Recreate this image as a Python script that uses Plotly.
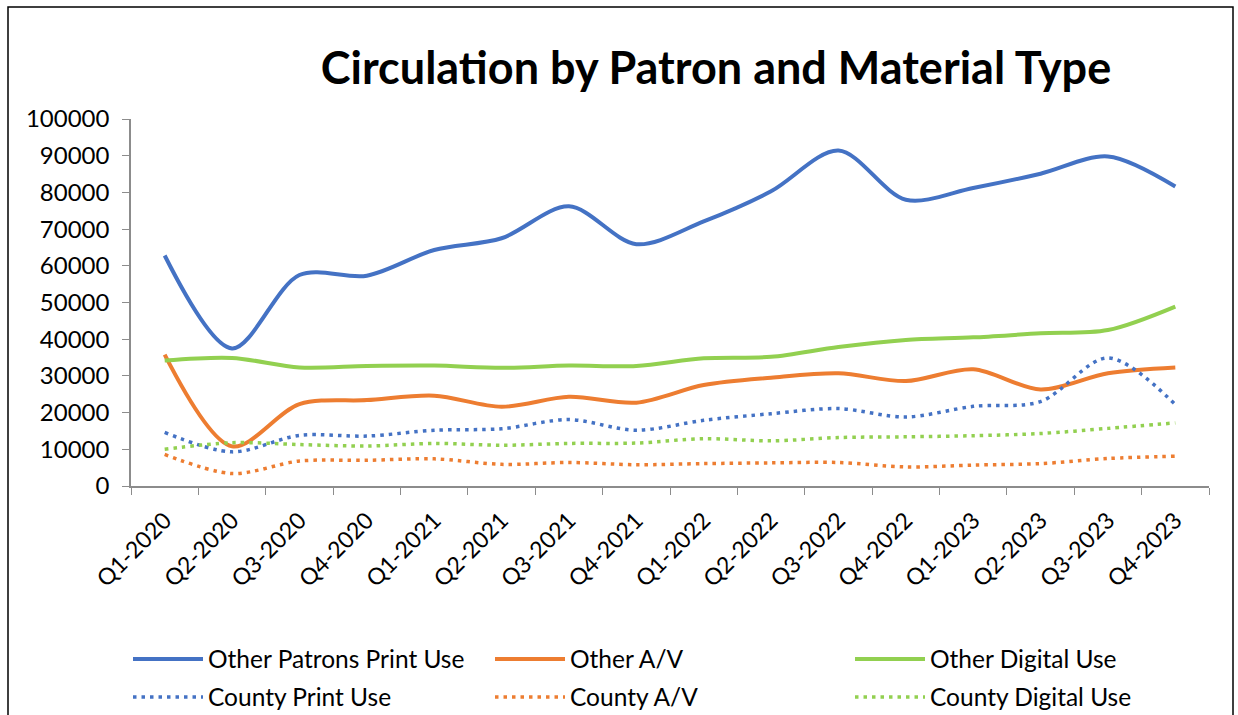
import plotly.graph_objects as go

quarters = ["Q1-2020", "Q2-2020", "Q3-2020", "Q4-2020",
            "Q1-2021", "Q2-2021", "Q3-2021", "Q4-2021",
            "Q1-2022", "Q2-2022", "Q3-2022", "Q4-2022",
            "Q1-2023", "Q2-2023", "Q3-2023", "Q4-2023"]

other_print = [62800, 37500, 57500, 57300, 64300, 67500, 76200, 65900,
               72100, 80300, 91400, 78000, 81200, 85100, 89800, 81600]
other_av = [35800, 10800, 22300, 23400, 24600, 21600, 24300, 22700,
            27500, 29500, 30700, 28600, 31800, 26300, 30700, 32300]
other_digital = [34200, 34900, 32300, 32700, 32800, 32200, 32800, 32700,
                 34800, 35200, 37900, 39800, 40500, 41600, 42500, 48900]
county_print = [14600, 9300, 13800, 13600, 15200, 15600, 18100, 15200,
                17900, 19700, 21100, 18800, 21700, 23000, 34900, 22200]
county_av = [8600, 3400, 6800, 7000, 7400, 5900, 6400, 5800,
             6100, 6300, 6400, 5200, 5700, 6100, 7500, 8100]
county_digital = [10000, 11800, 11300, 10900, 11600, 11100, 11600, 11700,
                  12900, 12300, 13200, 13400, 13700, 14300, 15700, 17200]

DOT = "3.5px,5px"
series = [
    ("Other Patrons Print Use", other_print, "#4472C4", "solid", 4),
    ("Other A/V", other_av, "#ED7D31", "solid", 4),
    ("Other Digital Use", other_digital, "#92D050", "solid", 4),
    ("County Print Use", county_print, "#4472C4", DOT, 3.5),
    ("County A/V", county_av, "#ED7D31", DOT, 3.5),
    ("County Digital Use", county_digital, "#92D050", DOT, 3.5),
]

# legend grid: 3 columns x 2 rows (one legend box per entry)
col_x = [128, 490, 850]
row_y = [659, 697]

FONT = "Lato"
fig = go.Figure()
legends = {}
for i, (name, vals, color, dash, w) in enumerate(series):
    key = "legend" if i == 0 else f"legend{i + 1}"
    fig.add_trace(go.Scatter(
        x=quarters, y=vals, name=name, mode="lines", legend=key,
        line=dict(color=color, width=w, dash=dash, shape="spline", smoothing=0.9),
    ))
    legends[key] = dict(orientation="h", xref="container", x=col_x[i % 3] / 1238,
                        xanchor="left", yref="container", y=1 - row_y[i // 3] / 715,
                        yanchor="middle", itemwidth=70,
                        font=dict(family=FONT, size=24.5, color="black"),
                        bgcolor="rgba(0,0,0,0)")

fig.update_layout(
    width=1238, height=715,
    paper_bgcolor="white", plot_bgcolor="white",
    margin=dict(l=131, r=29, t=119, b=229, autoexpand=False),
    title=dict(text="<b>Circulation by Patron and Material Type</b>",
               font=dict(family=FONT, size=45, color="black"),
               x=716 / 1238, xref="container", xanchor="center",
               y=1 - 68 / 715, yref="container", yanchor="middle"),
    showlegend=True,
    xaxis=dict(type="category", range=[-0.5, 15.5], tickangle=-45,
               tickfont=dict(family=FONT, size=23, color="black"),
               ticklabelstandoff=10,
               showline=True, linecolor="#8c8c8c", linewidth=1.5,
               ticks="outside", ticklen=7, tickcolor="#8c8c8c", tickwidth=1,
               tickson="boundaries", showgrid=False, zeroline=False),
    yaxis=dict(range=[0, 100000], dtick=10000, tickformat="d",
               tickfont=dict(family=FONT, size=24, color="black"),
               ticklabelstandoff=8,
               showline=True, linecolor="#8c8c8c", linewidth=1.5,
               ticks="outside", ticklen=7, tickcolor="#8c8c8c", tickwidth=1,
               showgrid=False, zeroline=False),
    shapes=[dict(type="rect", xref="paper", yref="paper",
                 x0=(8 - 131) / 1078, x1=(1233 - 131) / 1078,
                 y0=-1.0, y1=(486 - 7) / 367,
                 line=dict(color="black", width=1.5), fillcolor="rgba(0,0,0,0)",
                 layer="below")],
)
fig.update_layout(**legends)

fig.write_html("out.html", config={"displayModeBar": False},
               post_script="document.body.style.margin='0';")
